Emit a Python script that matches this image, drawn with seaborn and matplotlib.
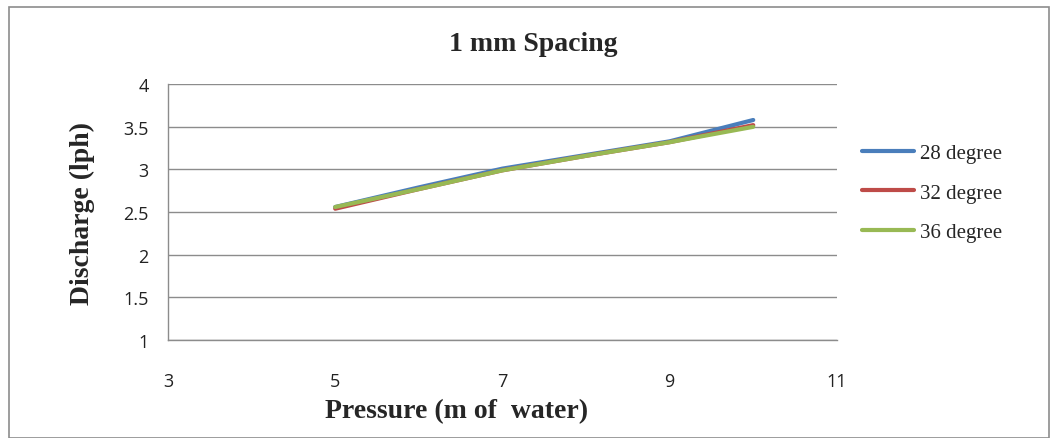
import matplotlib
matplotlib.use("Agg")
import matplotlib.pyplot as plt
import seaborn as sns
import pandas as pd
from matplotlib.patches import Rectangle

pressure = [5, 6, 7, 8, 9, 10]
deg28 = [2.56, 2.79, 3.01, 3.17, 3.33, 3.58]
deg32 = [2.54, 2.77, 2.99, 3.16, 3.32, 3.52]
deg36 = [2.56, 2.77, 2.99, 3.16, 3.32, 3.50]
series_names = ["28 degree", "32 degree", "36 degree"]
colors = ["#4a7ebb", "#be4b48", "#98b954"]
x_ticks = [3, 5, 7, 9, 11]
y_ticks = [1, 1.5, 2, 2.5, 3, 3.5, 4]

df = pd.DataFrame({
    "Pressure": pressure * 3,
    "Discharge": deg28 + deg32 + deg36,
    "Series": sum([[n] * len(pressure) for n in series_names], []),
})

sns.set_theme(style="white")
fig = plt.figure(figsize=(10.5, 4.39), dpi=100)
ax = fig.add_axes([0.16, 0.223, 0.637, 0.583])

sns.lineplot(data=df, x="Pressure", y="Discharge", hue="Series",
             palette=colors, linewidth=3, ax=ax, legend=True)

ax.set_xlim(3, 11)
ax.set_ylim(1, 4)
ax.set_xticks(x_ticks)
ax.set_yticks(y_ticks)
ax.set_yticklabels(["1", "1.5", "2", "2.5", "3", "3.5", "4"])
ax.grid(axis="y", color="#8c8c8c", linewidth=1)
ax.set_axisbelow(True)
for s in ["top", "right"]:
    ax.spines[s].set_visible(False)
for s in ["left", "bottom"]:
    ax.spines[s].set_color("#8c8c8c")
    ax.spines[s].set_linewidth(1)
ax.tick_params(axis="both", length=0, labelsize=13, colors="#222222")
ax.tick_params(axis="x", pad=23)
ax.tick_params(axis="y", pad=14)
for lbl in ax.get_xticklabels() + ax.get_yticklabels():
    lbl.set_family("Open Sans")

serif = "Liberation Serif"
ax.set_xlabel("")
ax.set_ylabel("Discharge (lph)", fontsize=20, fontweight="bold", family=serif, labelpad=20)
fig.text(0.435, 0.062, "Pressure (m of  water)", fontsize=20, fontweight="bold",
         family=serif, ha="center", va="center")
fig.text(0.508, 0.898, "1 mm Spacing", fontsize=20, fontweight="bold",
         family=serif, ha="center", va="center")

leg = ax.legend(loc="center left", bbox_to_anchor=(1.01, 0.575), frameon=False,
                prop={"family": serif, "size": 15}, handlelength=2.5,
                handletextpad=0.25, labelspacing=0.95)
for h in leg.get_lines():
    h.set_linewidth(3)

fig.patches.append(Rectangle((0.009, 0.0), 0.99, 0.982, transform=fig.transFigure,
                             fill=False, edgecolor="#8c8c8c", linewidth=1.2))

fig.savefig("out.png", dpi=100)
